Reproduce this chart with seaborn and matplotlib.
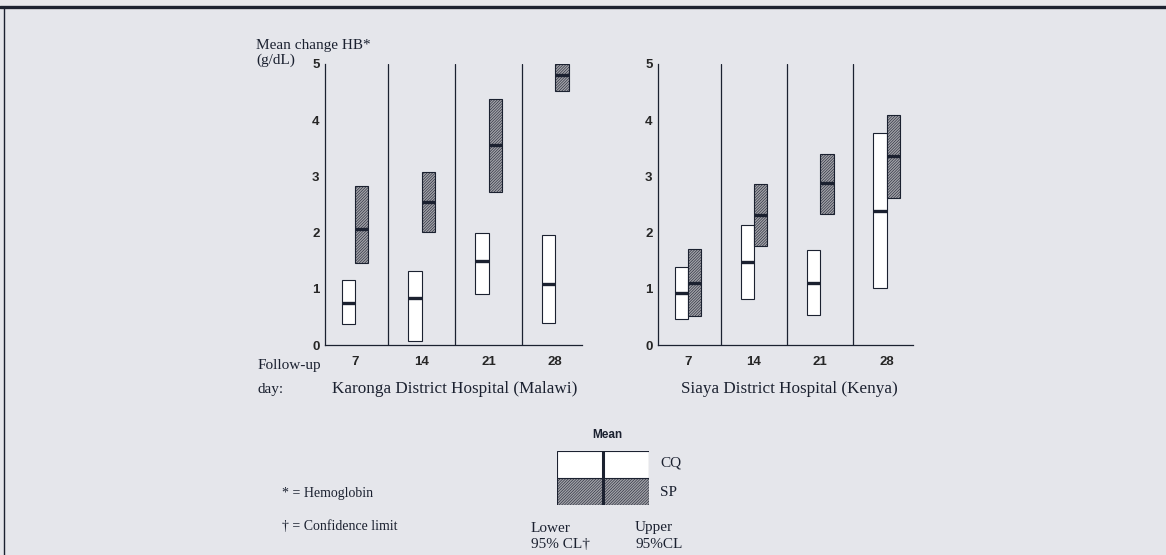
import numpy as np
import matplotlib
matplotlib.use('Agg')
import matplotlib.pyplot as plt
import seaborn as sns

# follow-up days (x categories)
days = ['7', '14', '21', '28']

# Karonga District Hospital (Malawi): mean change in Hb (g/dL) and 95% CL
karonga_cq_lower = [0.37, 0.08, 0.90, 0.40]
karonga_cq_mean = [0.75, 0.84, 1.49, 1.08]
karonga_cq_upper = [1.15, 1.31, 1.99, 1.96]
karonga_sp_lower = [1.46, 2.01, 2.73, 4.52]
karonga_sp_mean = [2.06, 2.55, 3.55, 4.80]
karonga_sp_upper = [2.83, 3.07, 4.38, 5.00]

# Siaya District Hospital (Kenya)
siaya_cq_lower = [0.47, 0.81, 0.54, 1.01]
siaya_cq_mean = [0.92, 1.47, 1.11, 2.39]
siaya_cq_upper = [1.38, 2.13, 1.69, 3.77]
siaya_sp_lower = [0.51, 1.76, 2.33, 2.61]
siaya_sp_mean = [1.11, 2.32, 2.88, 3.37]
siaya_sp_upper = [1.71, 2.87, 3.40, 4.10]

W, H = 1166, 555
BG = '#e5e6eb'
INK = '#1b2130'
SP_GRAY = '#a2a2a8'
SP_HATCH = '////////////'
BOX_W = 0.2
SANS = 'Liberation Sans'

sns.set_style('white')
plt.rcParams['font.family'] = ['Liberation Serif', 'DejaVu Serif']
plt.rcParams['hatch.linewidth'] = 0.4


def fx(px):
    return px / W


def fy(py):
    return 1 - py / H


def draw_panel(ax, cq, sp):
    pos = np.arange(len(days))
    for (lower, mean, upper), side, fill, hatch in [(cq, -1, 'white', None),
                                                    (sp, 1, SP_GRAY, SP_HATCH)]:
        lower = np.array(lower)
        upper = np.array(upper)
        x = pos + side * BOX_W / 2
        sns.barplot(x=x, y=upper - lower, bottom=lower, native_scale=True,
                    width=BOX_W, color=fill, saturation=1, hatch=hatch,
                    edgecolor=INK, linewidth=0.8, errorbar=None, ax=ax, zorder=3)
        ax.hlines(mean, x - BOX_W / 2, x + BOX_W / 2, colors=INK, lw=2.4, zorder=4)

    # separators between follow-up days
    for p in pos[:-1]:
        ax.axvline(p + 0.5, color=INK, lw=0.9, zorder=2)

    ax.set_xlim(-0.45, 3.4)
    ax.set_ylim(0, 5)
    ax.set_xticks(pos)
    ax.set_xticklabels(days, fontfamily=SANS, fontweight='bold', fontsize=9.5)
    ax.set_yticks(range(6))
    ax.set_yticks(np.arange(0.5, 5, 1), minor=True)
    ax.set_yticklabels([str(v) for v in range(6)], fontfamily=SANS,
                       fontweight='bold', fontsize=9.5)
    ax.tick_params(axis='x', length=0, pad=8)
    ax.tick_params(axis='y', which='major', direction='inout', length=4,
                   width=0.9, color=INK, pad=2)
    ax.tick_params(axis='y', which='minor', direction='in', length=2.5,
                   width=0.9, color=INK)
    ax.set_xlabel('')
    ax.set_ylabel('')
    ax.patch.set_alpha(0)
    for s in ['top', 'right']:
        ax.spines[s].set_visible(False)
    for s in ['left', 'bottom']:
        ax.spines[s].set_color(INK)
        ax.spines[s].set_linewidth(0.9)


fig = plt.figure(figsize=(W / 100, H / 100), dpi=100, facecolor=BG)

ax1 = fig.add_axes([fx(325), fy(345), (582 - 325) / W, (345 - 64) / H])
ax2 = fig.add_axes([fx(658), fy(345), (913 - 658) / W, (345 - 64) / H])

draw_panel(ax1, (karonga_cq_lower, karonga_cq_mean, karonga_cq_upper),
           (karonga_sp_lower, karonga_sp_mean, karonga_sp_upper))
draw_panel(ax2, (siaya_cq_lower, siaya_cq_mean, siaya_cq_upper),
           (siaya_sp_lower, siaya_sp_mean, siaya_sp_upper))

# axis text
fig.text(fx(256), fy(45), 'Mean change HB*', fontsize=11, color=INK, va='center')
fig.text(fx(256), fy(60), '(g/dL)', fontsize=11, color=INK, va='center')
fig.text(fx(258), fy(366), 'Follow-up', fontsize=11, color=INK, va='center')
fig.text(fx(258), fy(389), 'day:', fontsize=11, color=INK, va='center')
fig.text(fx(455), fy(389), 'Karonga District Hospital (Malawi)', fontsize=12.3,
         color=INK, va='center', ha='center')
fig.text(fx(789), fy(389), 'Siaya District Hospital (Kenya)', fontsize=12.3,
         color=INK, va='center', ha='center')

# footnotes
fig.text(fx(282), fy(493), '* = Hemoglobin', fontsize=10, color=INK, va='center')
fig.text(fx(282), fy(526), '\u2020 = Confidence limit', fontsize=10, color=INK,
         va='center')

# legend key: CQ on top (white), SP below (shaded), mean line in the middle
lax = fig.add_axes([fx(557), fy(505), (649 - 557) / W, (505 - 451) / H])
sns.barplot(x=[1, 1], y=['SP', 'CQ'], orient='h', width=1, hue=['SP', 'CQ'],
            palette=[SP_GRAY, 'white'], legend=False, saturation=1,
            edgecolor=INK, linewidth=0.8, ax=lax)
lax.patches[0].set_hatch(SP_HATCH)
lax.axvline(0.5, color=INK, lw=2.2)
lax.set_xlim(0, 1)
lax.set_ylim(-0.5, 1.5)
lax.axis('off')
fig.text(fx(607), fy(435), 'Mean', fontfamily=SANS, fontweight='bold', fontsize=8.5,
         color=INK, va='center', ha='center')
fig.text(fx(660), fy(463), 'CQ', fontsize=11, color=INK, va='center')
fig.text(fx(660), fy(492), 'SP', fontsize=11, color=INK, va='center')
fig.text(fx(531), fy(528), 'Lower', fontsize=11, color=INK, va='center')
fig.text(fx(531), fy(545), '95% CL\u2020', fontsize=11, color=INK, va='center')
fig.text(fx(635), fy(528), 'Upper', fontsize=11, color=INK, va='center')
fig.text(fx(635), fy(545), '95%CL', fontsize=11, color=INK, va='center')

# frame of the figure box
fig.add_artist(plt.Line2D([0, 1], [fy(7), fy(7)], color=INK, lw=2.4))
fig.add_artist(plt.Line2D([fx(4), fx(4)], [fy(7), 0], color=INK, lw=1.0))

fig.savefig('out.png', dpi=100, facecolor=BG)
